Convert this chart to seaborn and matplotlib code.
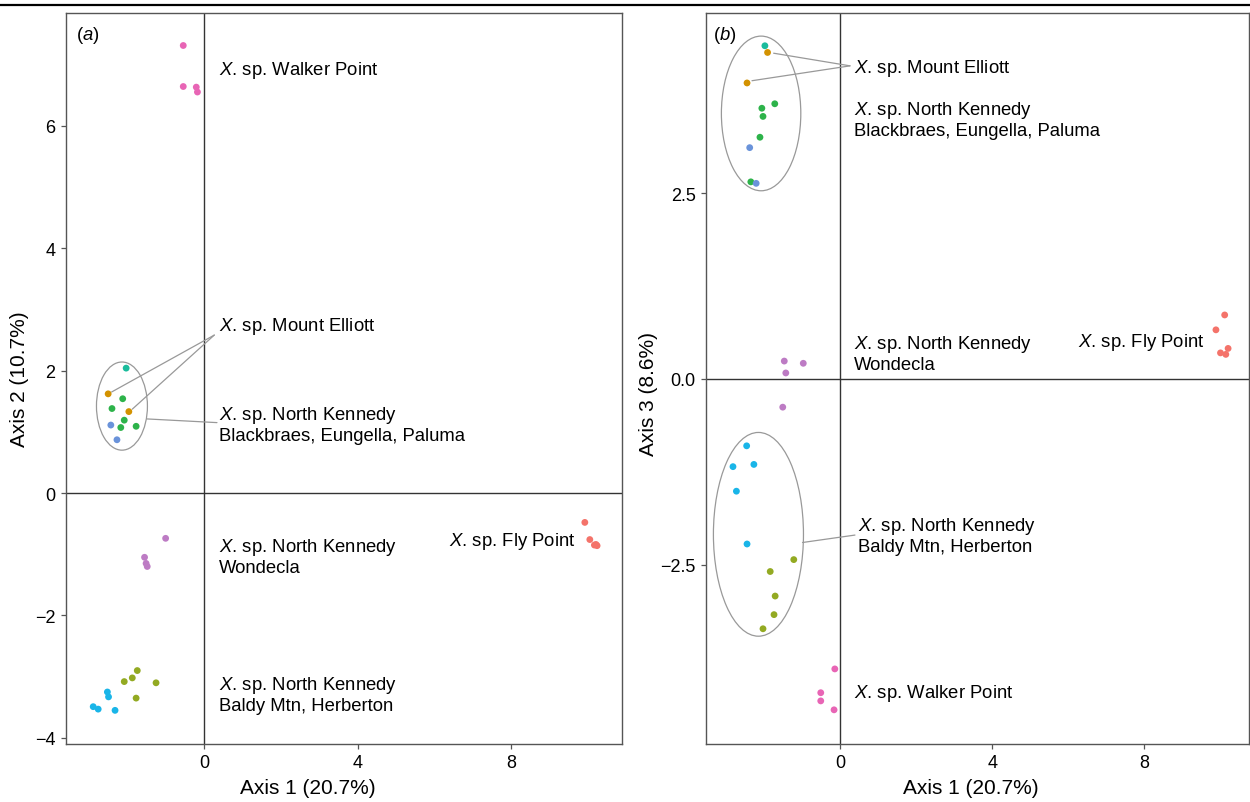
import matplotlib
matplotlib.use("Agg")
import matplotlib.pyplot as plt
from matplotlib.patches import Ellipse
from matplotlib.lines import Line2D
import pandas as pd
import seaborn as sns

# -----------------------------------
# DATA
# -----------------------------------

groups = ["Fly Point", "Mount Elliott", "Baldy Mtn", "Blackbraes", "Eungella",
          "Herberton", "Paluma", "Wondecla", "Walker Point"]

group_colors = ["#F4736A", "#D39200", "#93AA22", "#2DB34A", "#1ABC9C",
                "#19B5E8", "#6A93DA", "#BD7BC4", "#E865B5"]

point_group = (["Fly Point"] * 5 + ["Mount Elliott"] * 2 + ["Baldy Mtn"] * 5
               + ["Blackbraes"] * 5 + ["Eungella"] * 1 + ["Herberton"] * 5
               + ["Paluma"] * 2 + ["Wondecla"] * 4 + ["Walker Point"] * 4)

axis1 = [9.93, 10.06, 10.18, 10.25, 10.22,
         -2.51, -1.97,
         -1.75, -1.88, -2.09, -1.26, -1.78,
         -2.13, -2.41, -2.09, -2.18, -1.78,
         -2.04,
         -2.53, -2.50, -2.33, -2.90, -2.77,
         -2.44, -2.28,
         -1.01, -1.56, -1.52, -1.49,
         -0.55, -0.55, -0.21, -0.18]

axis2 = [-0.48, -0.76, -0.85, -0.86, -0.84,
         1.62, 1.33,
         -2.90, -3.02, -3.08, -3.10, -3.35,
         1.54, 1.38, 1.19, 1.07, 1.09,
         2.04,
         -3.25, -3.33, -3.55, -3.49, -3.53,
         1.11, 0.87,
         -0.74, -1.05, -1.15, -1.20,
         7.31, 6.64, 6.63, 6.55]

axis1_b = [10.12, 9.89, 10.21, 10.01, 10.15,
           -1.91, -2.45,
           -1.22, -1.84, -1.71, -1.74, -2.03,
           -1.72, -2.06, -2.03, -2.11, -2.35,
           -1.98,
           -2.46, -2.82, -2.27, -2.73, -2.45,
           -2.38, -2.21,
           -1.47, -0.97, -1.43, -1.51,
           -0.14, -0.51, -0.51, -0.16]

axis3 = [0.86, 0.66, 0.41, 0.35, 0.33,
         4.39, 3.98,
         -2.43, -2.59, -2.92, -3.17, -3.36,
         3.70, 3.64, 3.53, 3.25, 2.65,
         4.48,
         -0.90, -1.18, -1.15, -1.51, -2.22,
         3.11, 2.63,
         0.24, 0.21, 0.08, -0.38,
         -3.90, -4.22, -4.33, -4.45]

df = pd.DataFrame({"group": point_group, "axis1": axis1, "axis2": axis2,
                   "axis1_b": axis1_b, "axis3": axis3})

palette = dict(zip(groups, group_colors))

# -----------------------------------
# STYLE
# -----------------------------------

sns.set_theme(style="ticks")
plt.rcParams["font.family"] = ["Liberation Sans", "DejaVu Sans"]
plt.rcParams["mathtext.fontset"] = "custom"
plt.rcParams["mathtext.rm"] = "Liberation Sans"
plt.rcParams["mathtext.it"] = "Liberation Sans:italic"
plt.rcParams["text.color"] = "black"
plt.rcParams["axes.labelcolor"] = "black"

EDGE = "#555555"
LABEL_FS = 13.3
TICK_FS = 13
AX_FS = 15


def style_axes(ax):
    for sp in ax.spines.values():
        sp.set_color(EDGE)
        sp.set_linewidth(1.0)
    ax.tick_params(colors=EDGE, labelcolor="black", labelsize=TICK_FS,
                   length=3.5, width=0.9, pad=4)
    ax.axvline(0, color="#333333", lw=1.0, zorder=0)
    ax.axhline(0, color="#333333", lw=1.0, zorder=0)


def leader(ax, x0, y0, x1, y1):
    ax.plot([x0, x1], [y0, y1], color="#999999", lw=0.9, zorder=1)


def sp_label(ax, x, y, place, ha="left"):
    ax.text(x, y, r"$\mathit{X}$. sp. " + place, fontsize=LABEL_FS,
            ha=ha, va="center", linespacing=1.15)


fig = plt.figure(figsize=(12.5, 8.03), dpi=100)
ax_a = fig.add_axes([0.0528, 0.0722, 0.4448, 0.9103])
ax_b = fig.add_axes([0.5648, 0.0722, 0.4344, 0.9103])

# -----------------------------------
# PANEL A : AXIS 1 vs AXIS 2
# -----------------------------------

sns.scatterplot(data=df, x="axis1", y="axis2", hue="group", palette=palette,
                hue_order=groups, s=24, linewidth=0, legend=False, ax=ax_a,
                zorder=3)
ax_a.set_xlim(-3.61, 10.9)
ax_a.set_ylim(-4.1, 7.84)
ax_a.set_xticks([0, 4, 8])
ax_a.set_yticks([-4, -2, 0, 2, 4, 6])
ax_a.set_xlabel("Axis 1 (20.7%)", fontsize=AX_FS)
ax_a.set_ylabel("Axis 2 (10.7%)", fontsize=AX_FS)
ax_a.xaxis.set_label_coords(0.435, -0.047)
ax_a.yaxis.set_label_coords(-0.066, 0.5)
style_axes(ax_a)

ax_a.add_patch(Ellipse((-2.15, 1.42), 1.33, 1.44, fill=False,
                       edgecolor="#999999", lw=0.9))
leader(ax_a, -2.42, 1.65, 0.26, 2.58)
leader(ax_a, -1.88, 1.37, 0.26, 2.58)
leader(ax_a, -1.49, 1.21, 0.33, 1.15)

sp_label(ax_a, 0.39, 6.92, "Walker Point")
sp_label(ax_a, 0.39, 2.73, "Mount Elliott")
sp_label(ax_a, 0.39, 1.13, "North Kennedy\nBlackbraes, Eungella, Paluma")
sp_label(ax_a, 0.39, -1.03, "North Kennedy\nWondecla")
sp_label(ax_a, 9.70, -0.77, "Fly Point", ha="right")
sp_label(ax_a, 0.39, -3.28, "North Kennedy\nBaldy Mtn, Herberton")
ax_a.text(0.018, 0.985, r"($\mathit{a}$)", transform=ax_a.transAxes,
          fontsize=LABEL_FS, ha="left", va="top")

# -----------------------------------
# PANEL B : AXIS 1 vs AXIS 3
# -----------------------------------

sns.scatterplot(data=df, x="axis1_b", y="axis3", hue="group", palette=palette,
                hue_order=groups, s=24, linewidth=0, legend=False, ax=ax_b,
                zorder=3)
ax_b.set_xlim(-3.53, 10.76)
ax_b.set_ylim(-4.91, 4.92)
ax_b.set_xticks([0, 4, 8])
ax_b.set_yticks([-2.5, 0, 2.5])
ax_b.set_yticklabels(["\u22122.5", "0.0", "2.5"])
ax_b.set_xlabel("Axis 1 (20.7%)", fontsize=AX_FS)
ax_b.set_ylabel("Axis 3 (8.6%)", fontsize=AX_FS)
ax_b.xaxis.set_label_coords(0.488, -0.047)
ax_b.yaxis.set_label_coords(-0.088, 0.48)
style_axes(ax_b)

ax_b.add_patch(Ellipse((-2.08, 3.57), 2.09, 2.08, fill=False,
                       edgecolor="#999999", lw=0.9))
ax_b.add_patch(Ellipse((-2.15, -2.09), 2.37, 2.74, fill=False,
                       edgecolor="#999999", lw=0.9))
leader(ax_b, -1.75, 4.38, 0.26, 4.21)
leader(ax_b, -2.32, 4.01, 0.26, 4.21)
leader(ax_b, -0.99, -2.20, 0.39, -2.10)

sp_label(ax_b, 0.37, 4.19, "Mount Elliott")
sp_label(ax_b, 0.37, 3.49, "North Kennedy\nBlackbraes, Eungella, Paluma")
sp_label(ax_b, 0.37, 0.35, "North Kennedy\nWondecla")
sp_label(ax_b, 9.58, 0.50, "Fly Point", ha="right")
sp_label(ax_b, 0.47, -2.10, "North Kennedy\nBaldy Mtn, Herberton")
sp_label(ax_b, 0.37, -4.22, "Walker Point")
ax_b.text(0.013, 0.985, r"($\mathit{b}$)", transform=ax_b.transAxes,
          fontsize=LABEL_FS, ha="left", va="top")

# top rule of the figure
fig.add_artist(Line2D([0, 1], [1 - 6 / 803, 1 - 6 / 803], color="black",
                      lw=1.6, transform=fig.transFigure))

fig.savefig("out.png", dpi=100)
